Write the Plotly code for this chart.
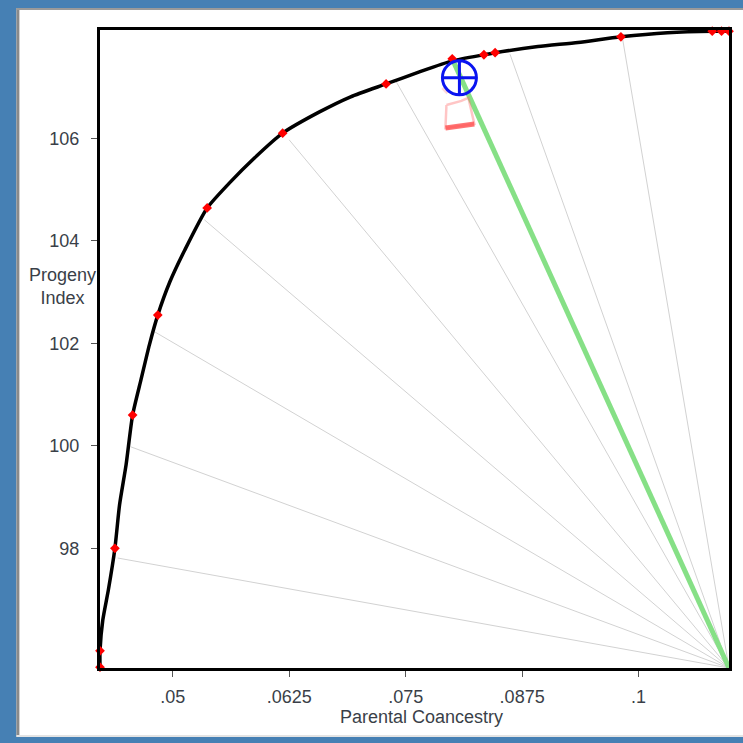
import plotly.graph_objects as go

# Efficient frontier: parental coancestry vs progeny index
frontier_x = [0.0422, 0.0422, 0.0425, 0.0431, 0.0438, 0.0443, 0.0450, 0.0457, 0.0466,
              0.0475, 0.0484, 0.0497, 0.0513, 0.0537, 0.0561, 0.0588, 0.0618, 0.0657,
              0.0691, 0.0729, 0.0764, 0.0800, 0.0834, 0.0846, 0.0892, 0.0935, 0.0981,
              0.1031, 0.1079, 0.1097]
frontier_y = [95.67, 96.00, 96.60, 97.19, 98.00, 98.85, 99.63, 100.60, 101.29,
              101.97, 102.55, 103.20, 103.82, 104.64, 105.13, 105.62, 106.10, 106.51,
              106.81, 107.06, 107.29, 107.51, 107.63, 107.67, 107.79, 107.87, 107.98,
              108.06, 108.09, 108.09]

# Solutions found along the frontier
solution_x = [0.0422, 0.0422, 0.0438, 0.0457, 0.0484, 0.0537, 0.0618, 0.0729,
              0.0800, 0.0834, 0.0846, 0.0981, 0.1079, 0.1089, 0.1097]
solution_y = [95.68, 96.00, 98.00, 100.60, 102.55, 104.64, 106.10, 107.06,
              107.55, 107.63, 107.67, 107.98, 108.09, 108.09, 108.09]

# End points of the search directions (rays from the lower-right corner)
ray_x = [0.0441, 0.0455, 0.0481, 0.0534, 0.0625, 0.0740, 0.0862, 0.0983]
ray_y = [97.81, 99.98, 102.22, 104.41, 105.97, 107.10, 107.64, 107.92]

# Selected solution and its direction
selected_x = 0.0800
selected_y = 107.55
target_x = 0.08077
target_y = 107.18

# Search trace around the target
trace_x = [0.07938, 0.08098, 0.08173, 0.08216, 0.08237, 0.07927, 0.07938]
trace_y = [106.65, 106.73, 106.79, 106.40, 106.28, 106.20, 106.65]
trace_base_x = [0.07927, 0.08237]
trace_base_y = [106.20, 106.28]
faint_x = [0.07895, 0.07949]
faint_y = [106.98, 106.88]

x_ticks = [0.05, 0.0625, 0.075, 0.0875, 0.1]
x_ticktext = [".05", ".0625", ".075", ".0875", ".1"]
y_ticks = [98, 100, 102, 104, 106]

x_range = [0.0422, 0.1097]
y_range = [95.664, 108.113]
origin_x, origin_y = x_range[1], y_range[0]

W = H = 743
M_L, M_R, M_T, M_B = 100, 11, 30, 75
PW = W - M_L - M_R
PH = H - M_T - M_B


def px(x):
    return (x - M_L) / PW


def py(y):
    return (H - M_B - y) / PH


fig = go.Figure()

# rays
rx, ry = [], []
for ex, ey in zip(ray_x, ray_y):
    rx += [origin_x, ex, None]
    ry += [origin_y, ey, None]
fig.add_trace(go.Scatter(x=rx, y=ry, mode="lines",
                         line=dict(color="#d2d2d2", width=1), hoverinfo="skip"))

# selected direction
fig.add_trace(go.Scatter(x=[origin_x, selected_x], y=[origin_y, selected_y], mode="lines",
                         line=dict(color="#86e086", width=5), hoverinfo="skip"))

# frontier curve
fig.add_trace(go.Scatter(x=frontier_x, y=frontier_y, mode="lines",
                         line=dict(color="black", width=3.5, shape="spline", smoothing=0.6),
                         hoverinfo="skip"))

# search trace
fig.add_trace(go.Scatter(x=trace_x, y=trace_y, mode="lines",
                         line=dict(color="rgba(255,110,110,0.4)", width=2.5), hoverinfo="skip"))
fig.add_trace(go.Scatter(x=trace_base_x, y=trace_base_y, mode="lines",
                         line=dict(color="rgba(255,70,70,0.75)", width=5), hoverinfo="skip"))
fig.add_trace(go.Scatter(x=faint_x, y=faint_y, mode="lines",
                         line=dict(color="rgba(255,130,130,0.3)", width=3), hoverinfo="skip"))

# solution markers
fig.add_trace(go.Scatter(x=solution_x, y=solution_y, mode="markers", cliponaxis=False,
                         marker=dict(symbol="diamond", size=7.5, color="#ff0000",
                                     line=dict(width=0)), hoverinfo="skip"))

# target cross-hair
fig.add_trace(go.Scatter(x=[target_x], y=[target_y], mode="markers", cliponaxis=False,
                         marker=dict(symbol="circle-cross-open", size=34, color="#0a14f0",
                                     line=dict(color="#0a14f0", width=3)),
                         hoverinfo="skip"))

# window panel
shapes = [
    dict(type="rect", xref="paper", yref="paper", layer="below",
         x0=px(16), x1=px(760), y0=py(8), y1=py(737),
         fillcolor="white", line=dict(width=0)),
    dict(type="line", xref="paper", yref="paper", layer="below",
         x0=px(17.5), x1=px(17.5), y0=py(8), y1=py(737),
         line=dict(color="#8a8a8a", width=3)),
    dict(type="line", xref="paper", yref="paper", layer="below",
         x0=px(16), x1=px(760), y0=py(9), y1=py(9),
         line=dict(color="#9a9a9a", width=2)),
    dict(type="line", xref="paper", yref="paper", layer="below",
         x0=px(16), x1=px(760), y0=py(736), y1=py(736),
         line=dict(color="#e4e4e4", width=2)),
]

font_family = "Liberation Sans, Arial, sans-serif"
text_color = "#3a3f48"
annotations = [
    dict(xref="paper", yref="paper", x=px(423), y=py(717), text="Parental Coancestry",
         showarrow=False, font=dict(family=font_family, size=18, color=text_color),
         xanchor="center", yanchor="middle"),
    dict(xref="paper", yref="paper", x=px(62), y=py(286), text="Progeny<br>Index",
         showarrow=False, font=dict(family=font_family, size=18, color=text_color),
         xanchor="center", yanchor="middle", align="center"),
]

fig.update_layout(
    width=W, height=H,
    margin=dict(l=M_L, r=M_R, t=M_T, b=M_B, pad=0),
    paper_bgcolor="#4680b4",
    plot_bgcolor="white",
    showlegend=False,
    shapes=shapes,
    annotations=annotations,
    font=dict(family=font_family, size=18, color=text_color),
    xaxis=dict(range=x_range, tickvals=x_ticks, ticktext=x_ticktext,
               showgrid=False, zeroline=False, showline=True, mirror=True,
               linecolor="black", linewidth=3, ticks="outside", ticklen=6,
               tickcolor="#555555", tickwidth=1, ticklabelstandoff=4),
    yaxis=dict(range=y_range, tickvals=y_ticks,
               showgrid=False, zeroline=False, showline=True, mirror=True,
               linecolor="black", linewidth=3, ticks="outside", ticklen=6,
               tickcolor="#555555", tickwidth=1, ticklabelstandoff=8),
)

fig.write_html("out.html")
